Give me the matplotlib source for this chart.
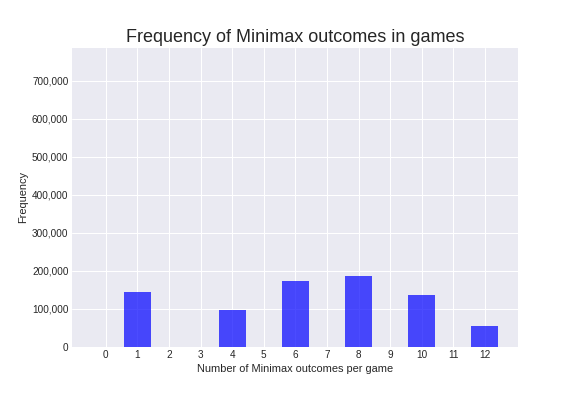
import matplotlib
matplotlib.use("Agg")
import matplotlib.pyplot as plt
from matplotlib.ticker import FuncFormatter

outcomes = [1, 4, 6, 8, 10, 12]
frequency = [145000, 97000, 174000, 187000, 137000, 55000]
tick_values = list(range(13))

plt.style.use("seaborn-v0_8-darkgrid")
plt.rcParams["font.family"] = ["Liberation Sans", "DejaVu Sans"]
plt.rcParams["grid.linewidth"] = 1.0
plt.rcParams["xtick.labelsize"] = 10
plt.rcParams["ytick.labelsize"] = 10
plt.rcParams["axes.labelsize"] = 11

fig, ax = plt.subplots(figsize=(8, 5.5), dpi=72)
fig.subplots_adjust(left=0.125, right=0.9, top=0.88, bottom=0.124)
ax.bar(outcomes, frequency, width=0.85, color="blue", alpha=0.7)

ax.set_xticks(tick_values)
ax.set_xlim(-1.07, 13.06)
ax.set_ylim(0, 787000)
ax.yaxis.set_major_formatter(FuncFormatter(lambda v, p: f"{int(v):,}"))
ax.set_xlabel("Number of Minimax outcomes per game")
ax.set_ylabel("Frequency")
ax.set_title("Frequency of Minimax outcomes in games", fontsize=18)

fig.savefig("out.png")
